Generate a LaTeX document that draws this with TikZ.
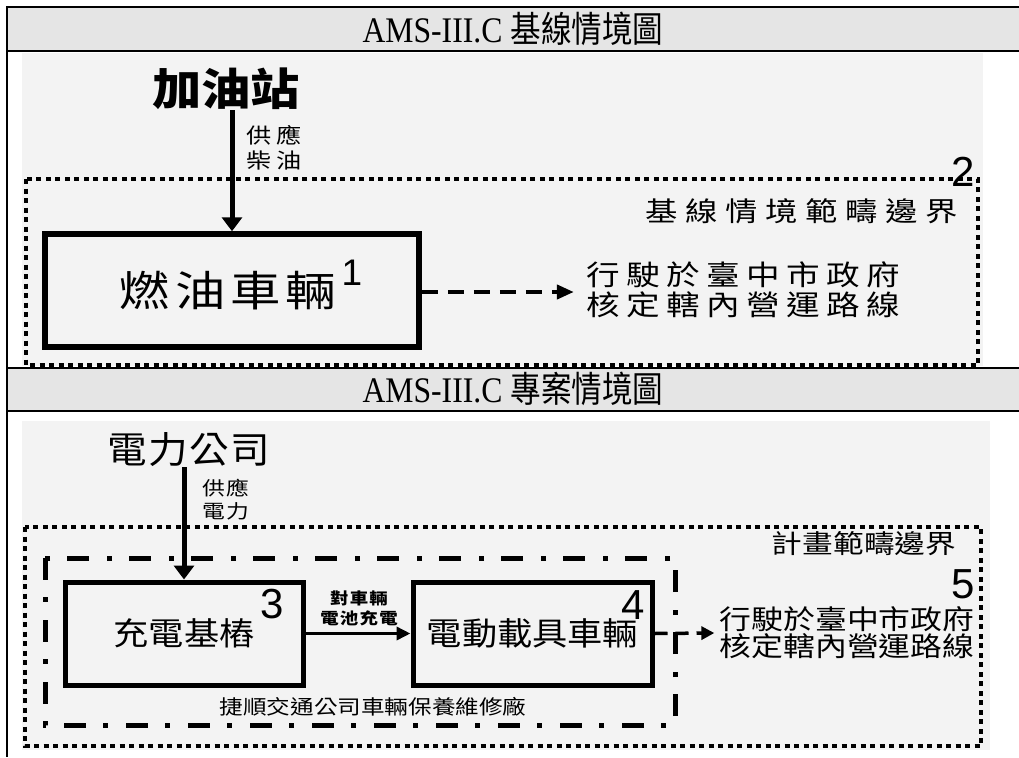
\documentclass[tikz,border=0pt]{standalone}
\usepackage{fontspec}
\setmainfont{Noto Sans CJK TC}
\newfontfamily\digitfont{Liberation Sans}
\newfontfamily\hdserif{Liberation Serif}[FakeStretch=0.88]
\newfontfamily\hdcjk{Noto Sans CJK TC}[FakeStretch=0.85]
\usetikzlibrary{arrows.meta}
\definecolor{hdgray}{RGB}{229,229,229}
\definecolor{pgray}{RGB}{243,243,243}
\newcommand\zh[4]{\fontsize{#1}{#2}\selectfont\addfontfeatures{LetterSpace=#3,FakeStretch=#4}}
\tikzset{
  frame/.style={line width=2.6, black},
  hdtext/.style={font=\fontsize{36}{40}\selectfont, inner sep=0},
  box/.style={draw, line width=5.5, inner sep=0, fill=none},
  dotb/.style={line width=4, dash pattern=on 5 off 4.5},
  dashdotb/.style={line width=5, dash pattern=on 22 off 17 on 5 off 18},
  thickarrow/.style={line width=5, -{Triangle[length=14,width=20]}},
  thinarrow/.style={line width=3.5, -{Triangle[length=14,width=13]}},
  dasharrowa/.style={line width=4, dash pattern=on 16 off 10, -{Triangle[length=17,width=14]}},
  dasharrowb/.style={line width=3.5, dash pattern=on 13 off 8, -{Triangle[length=13,width=13]}},
  num/.style={font=\digitfont\fontsize{42}{44}\selectfont, inner sep=0},
  txt/.style={inner sep=0, align=center},
}
\begin{document}
\begin{tikzpicture}[x=1pt,y=-1pt]
\useasboundingbox (0,0) rectangle (1019,757);
% header and panel fills
\fill[hdgray] (7,7) rectangle (1019,51);
\fill[hdgray] (7,368) rectangle (1019,411);
\fill[pgray] (22,53) rectangle (983,366);
\fill[pgray] (22,421) rectangle (990,750);
% table frame
\draw[frame] (1019,7) -- (7,7) -- (7,757);
\draw[frame] (7,51) -- (1019,51);
\draw[frame] (7,368) -- (1019,368);
\draw[frame] (7,411) -- (1019,411);
% headers
\node[hdtext] (h1) at (513,29) {{\hdserif AMS-III.C} {\hdcjk 基線情境圖}};
\node[hdtext] (h2) at (513,389) {{\hdserif AMS-III.C} {\hdcjk 專案情境圖}};

% ---------- baseline panel ----------
\draw[dotb] (26,179) rectangle (978,365);
\node[txt, font={\bfseries\zh{44}{48}{0}{1.12}}] (station) at (226,89) {加油站};
\node[box, minimum width=374, minimum height=113, font={\zh{42}{46}{12}{1.2}}] (car) at (232,290.5) {燃油車輛\hspace*{8pt}};
\node[num, font=\digitfont\fontsize{37}{40}\selectfont] (n1) at (352,273) {1};
\draw[thickarrow] (station.south -| car.north) -- (car.north);
\node[txt, align=left, font={\zh{21}{25}{25}{1.2}}] (supply1) at (274,148) {供應\\柴油};
\node[num] (n2) at (963,172) {2};
\node[txt, font={\zh{27}{30}{28}{1.2}}] (bound1) at (802,211) {基線情境範疇邊界};
\node[txt, align=left, font={\zh{28}{30}{23}{1.2}}] (route1) at (743,290) {行駛於臺中市政府\\核定轄內營運路線};
\draw[dasharrowa] (car.east |- 0,292) -- ([xshift=-12]route1.west |- 0,292);

% ---------- project panel ----------
\draw[dotb] (25,527) rectangle (981,746);
\draw[dashdotb] (45,558) rectangle (675,725);
\node[txt, font={\zh{37}{40}{4}{1.07}}] (power) at (189,450) {電力公司};
\node[box, line width=5, minimum width=238, minimum height=103, font={\zh{32}{34}{0}{1.1}}] (charger) at (184,633.5) {充電基樁};
\node[box, line width=5, minimum width=239, minimum height=103, font={\zh{32}{34}{0}{1.1}}] (ev) at (532.5,633.5) {\raisebox{-1pt}{電動載具車輛}};
\node[num] (n3) at (272,604) {3};
\node[num] (n4) at (633,605) {4};
\node[num] (n5) at (963,584) {5};
\draw[thickarrow] (power.south -| charger.north) -- (charger.north);
\node[txt, align=left, font={\zh{19}{23}{5}{1.2}}] (supply2) at (226,500) {供應\\電力};
\draw[thinarrow] (charger.east) -- (ev.west);
\node[txt, font={\bfseries\zh{16}{20}{8}{1.15}}] (chargelbl) at (359,608) {對車輛\\電池充電};
\node[txt, font={\zh{20}{22}{0}{1.18}}] (depot) at (373,707) {捷順交通公司車輛保養維修廠};
\node[txt, font={\zh{26}{28}{0}{1.18}}] (bound2) at (864,544) {計畫範疇邊界};
\node[txt, align=left, font={\zh{27}{27}{0}{1.18}}] (route2) at (847,633) {行駛於臺中市政府\\核定轄內營運路線};
\draw[dasharrowb] (ev.east) -- ([xshift=-5]route2.west);
\end{tikzpicture}
\end{document}
